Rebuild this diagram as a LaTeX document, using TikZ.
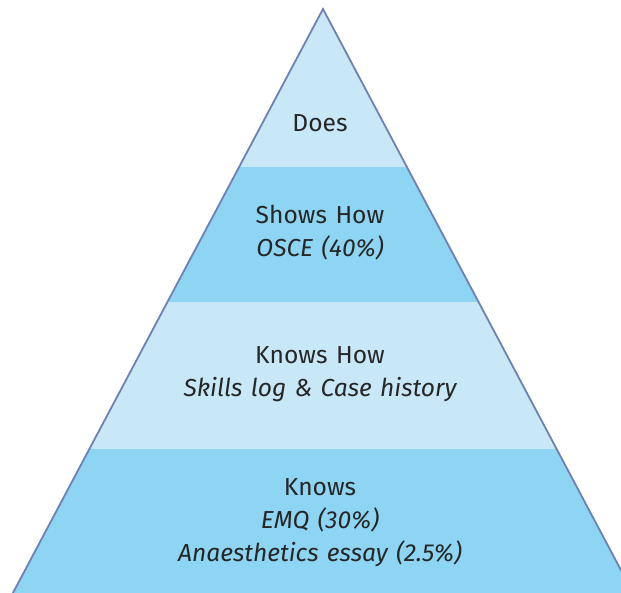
\documentclass[tikz,border=0pt]{standalone}
\usepackage{fontspec}
\setmainfont{Fira Sans}[WordSpace=1.3]
\definecolor{bandlight}{HTML}{C8E8F8}
\definecolor{banddark}{HTML}{8DD5F3}
\definecolor{edge}{HTML}{6E80B4}
\definecolor{txt}{HTML}{262626}
\begin{document}
\begin{tikzpicture}[x=1pt,y=-1pt,
  lab/.style={text=txt,font=\fontsize{24.6}{33}\selectfont,align=center,inner sep=0pt}]
\useasboundingbox (0,0) rectangle (621,593);
\coordinate (apex) at (323,9);
\coordinate (bl) at (12.9,593);
\coordinate (br) at (633.1,593);
\begin{scope}
  \clip (apex) -- (bl) -- (br) -- cycle;
  \fill[bandlight] (0,0) rectangle (640,167);
  \fill[banddark] (0,167) rectangle (640,302);
  \fill[bandlight] (0,302) rectangle (640,449);
  \fill[banddark] (0,449) rectangle (640,600);
\end{scope}
\draw[edge,line width=1.8pt,line join=miter] (bl) -- (apex) -- (br);
\node[lab] (does) at (320,123) {Does};
\node[lab] (shows) at (320,233) {Shows How\\\itshape OSCE (40\%)};
\node[lab] (knowshow) at (320,374) {Knows How\\\itshape Skills log \& Case history};
\node[lab] (knows) at (320,522.5) {Knows\\\itshape EMQ (30\%)\\\itshape Anaesthetics essay (2.5\%)};
\end{tikzpicture}
\end{document}
